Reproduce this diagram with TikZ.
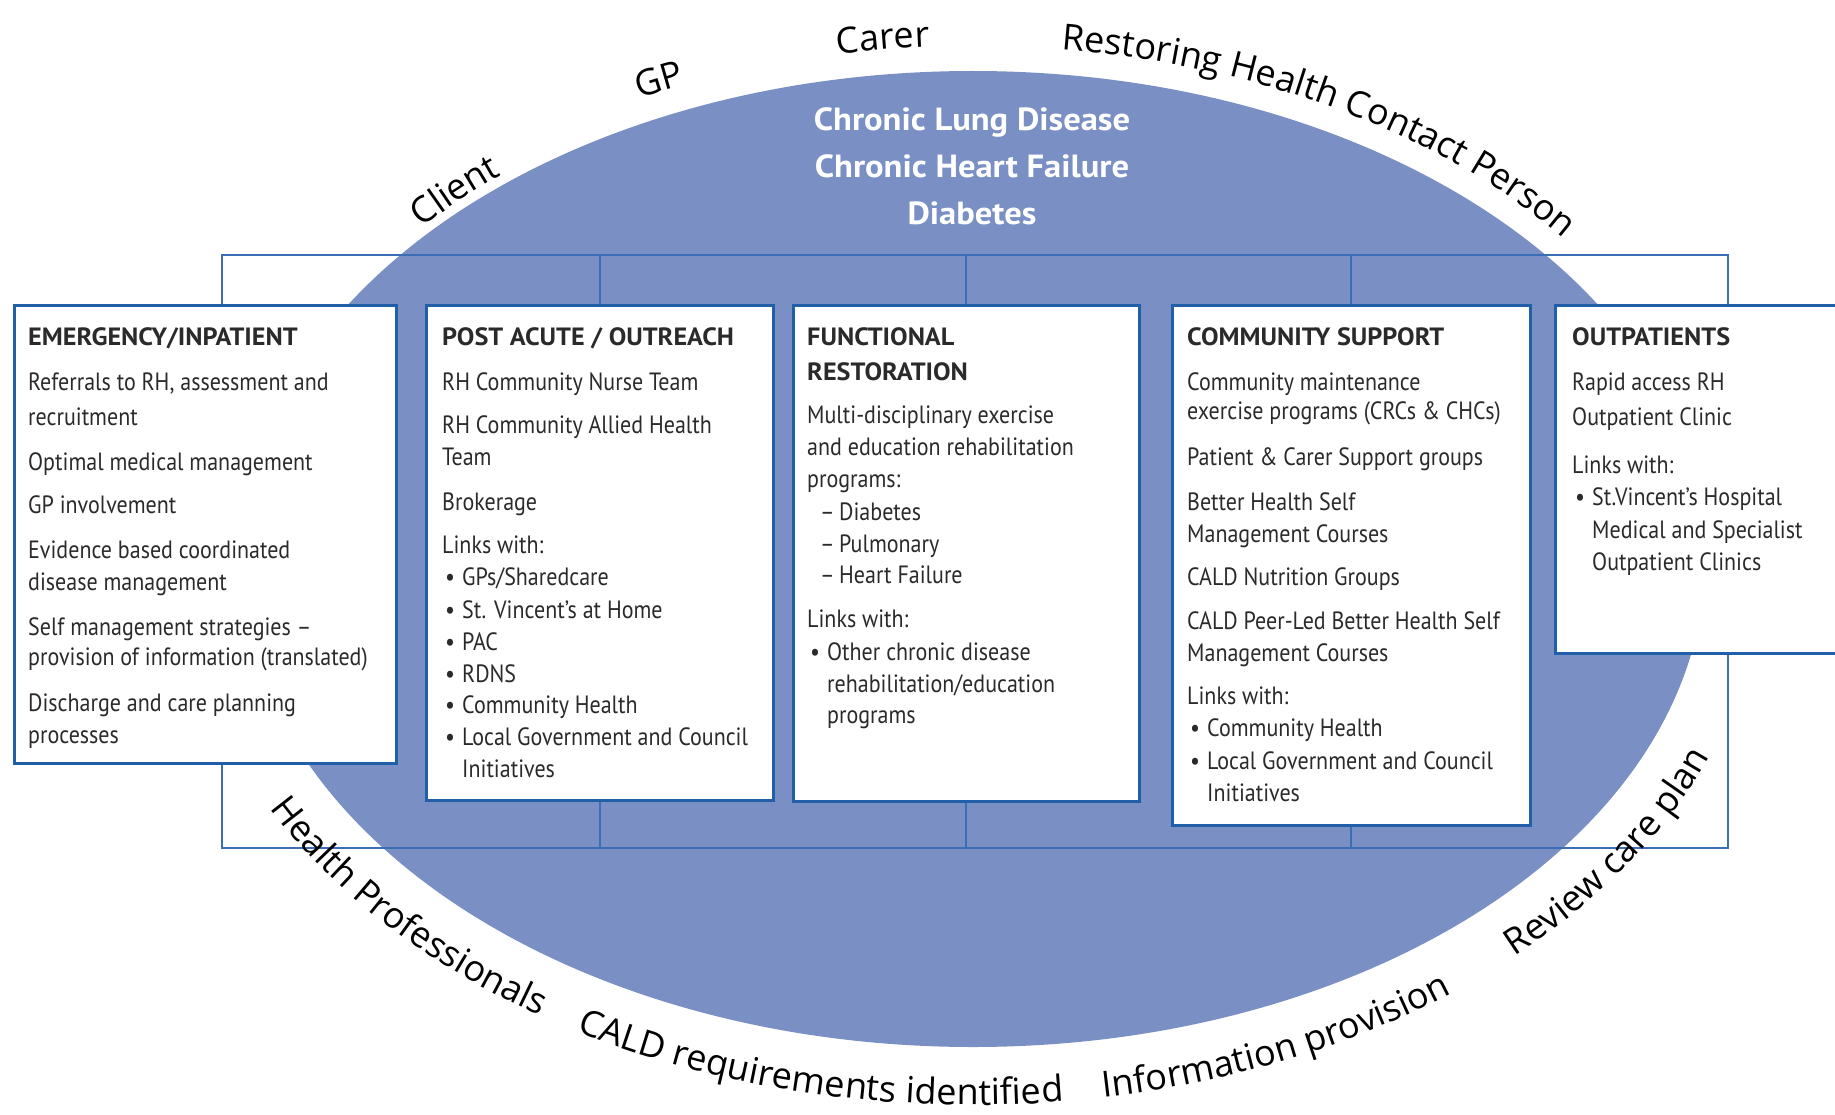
\documentclass[tikz,border=0pt]{standalone}
\usepackage{fontspec}
\setmainfont{PT Sans}
\newfontfamily\boxfont[FakeStretch=0.88]{PT Sans}
\newfontfamily\headfont[FakeStretch=1.05]{PT Sans}
\newfontfamily\titlefont[FakeStretch=1.08]{PT Sans}
\newfontfamily\labelfont{Open Sans}
\usetikzlibrary{decorations.text,shapes.geometric}
\definecolor{ellblue}{HTML}{7A90C4}
\definecolor{boxblue}{HTML}{2160A8}
\definecolor{frameblue}{HTML}{3B6EB5}
\definecolor{textgray}{HTML}{2A2A2A}
\newcommand\bul{\makebox[20pt][l]{\hspace{3pt}•}}
\newcommand\indt{\hspace*{20pt}}
\newcommand\dsh{\hspace*{13pt}\makebox[19pt][l]{–}}
\newcommand\labelfmt{\labelfont\fontsize{36}{42}\selectfont}
\newcommand\boxtext[3]{\foreach \yy/\lntext [count=\lnum] in {#3} {\node[ln] (#1-\lnum) at (#2,\yy) {\lntext};}}
\tikzset{
  boxrect/.style={draw=boxblue, line width=2.5pt, fill=white, rectangle, inner sep=0pt, anchor=north west},
  ln/.style={anchor=base west, inner sep=0pt, text=textgray, font=\boxfont\fontsize{25}{30}\selectfont},
  hd/.style={anchor=base west, inner sep=0pt, text=textgray, font=\headfont\bfseries\fontsize{25}{30}\selectfont},
  frameline/.style={draw=frameblue, line width=1.6pt},
  lbl/.style={decorate, decoration={text along path, text align=center, text={|\labelfmt|#1}}}
}
\begin{document}
\begin{tikzpicture}[x=1pt,y=-1pt]
\useasboundingbox (0,0) rectangle (1835,1115);
\clip (0,0) rectangle (1835,1115);
\fill[white] (0,0) rectangle (1835,1115);

% central ellipse
\node[ellipse, fill=ellblue, minimum width=1464pt, minimum height=976pt, inner sep=0pt] (core) at (973,559) {};
\node[text=white, font=\titlefont\bfseries\fontsize{32}{47}\selectfont, align=center] (title) at (972,166)
  {Chronic Lung Disease\\Chronic Heart Failure\\Diabetes};

% frame
\node[frameline, rectangle, anchor=north west, minimum width=1506pt, minimum height=593pt, inner sep=0pt] (frame) at (221,254) {};

% boxes
\node[boxrect, minimum width=382pt, minimum height=458pt] (emerg) at (13,304) {};
\node[boxrect, minimum width=347pt, minimum height=495pt] (post) at (425,304) {};
\node[boxrect, minimum width=346pt, minimum height=496pt] (func) at (792,304) {};
\node[boxrect, minimum width=358pt, minimum height=520pt] (comm) at (1171,304) {};
\node[boxrect, minimum width=320pt, minimum height=348pt] (outp) at (1554,304) {};

% connectors
\foreach \b in {post,func,comm}{
  \draw[frameline] (frame.north -| \b.north) -- (\b.north);
  \draw[frameline] (\b.south) -- (frame.south -| \b.south);
}

% box texts
\node[hd] (emerg-h) at (28,345) {EMERGENCY/INPATIENT};
\boxtext{emerg}{28}{390/{Referrals to RH, assessment and}, 425/{recruitment}, 470/{Optimal medical management},
  513/{GP involvement}, 558/{Evidence based coordinated}, 590/{disease management},
  635/{Self management strategies –}, 665/{provision of information (translated)},
  711/{Discharge and care planning}, 743/{processes}}

\node[hd] (post-h) at (442,345) {POST ACUTE / OUTREACH};
\boxtext{post}{442}{390/{RH Community Nurse Team}, 433/{RH Community Allied Health}, 465/{Team},
  510/{Brokerage}, 553/{Links with:}, 585/{\bul GPs/Sharedcare}, 618/{\bul St. Vincent’s at Home},
  650/{\bul PAC}, 682/{\bul RDNS}, 713/{\bul Community Health}, 745/{\bul Local Government and Council},
  777/{\indt Initiatives}}

\node[hd] (func-h1) at (807,345) {FUNCTIONAL};
\node[hd] (func-h2) at (807,380) {RESTORATION};
\boxtext{func}{807}{423/{Multi-disciplinary exercise}, 455/{and education rehabilitation}, 487/{programs:},
  520/{\dsh Diabetes}, 552/{\dsh Pulmonary}, 583/{\dsh Heart Failure}, 627/{Links with:},
  660/{\bul Other chronic disease}, 692/{\indt rehabilitation/education}, 723/{\indt programs}}

\node[hd] (comm-h) at (1187,345) {COMMUNITY SUPPORT};
\boxtext{comm}{1187}{390/{Community maintenance}, 419/{exercise programs (CRCs \& CHCs)},
  465/{Patient \& Carer Support groups}, 510/{Better Health Self}, 542/{Management Courses},
  585/{CALD Nutrition Groups}, 629/{CALD Peer-Led Better Health Self}, 661/{Management Courses},
  704/{Links with:}, 736/{\bul Community Health}, 769/{\bul Local Government and Council},
  801/{\indt Initiatives}}

\node[hd] (outp-h) at (1572,345) {OUTPATIENTS};
\boxtext{outp}{1572}{390/{Rapid access RH}, 425/{Outpatient Clinic}, 473/{Links with:},
  505/{\bul St.Vincent’s Hospital}, 538/{\indt Medical and Specialist}, 570/{\indt Outpatient Clinics}}

% curved labels (top)
\path[lbl=Client] (973,559) ++(199:736 and 500) arc[start angle=199, end angle=249, x radius=736, y radius=500];
\path[lbl=GP] (973,559) ++(225:757 and 513) arc[start angle=225, end angle=265, x radius=757, y radius=513];
\path[lbl=Carer] (973,559) ++(243:757 and 513) arc[start angle=243, end angle=283, x radius=757, y radius=513];
\path[lbl=Restoring Health Contact Person] (973,559) ++(269:757 and 513) arc[start angle=269, end angle=331, x radius=757, y radius=513];
% curved labels (bottom)
\path[lbl=Health Professionals] (973,559) ++(170:790 and 546) arc[start angle=170, end angle=110, x radius=790, y radius=546];
\path[lbl=CALD requirements identified] (973,559) ++(136:790 and 546) arc[start angle=136, end angle=69, x radius=790, y radius=546];
\path[lbl=Information provision] (973,559) ++(94:790 and 546) arc[start angle=94, end angle=37, x radius=790, y radius=546];
\path[lbl=Review care plan] (973,559) ++(58:790 and 546) arc[start angle=58, end angle=7, x radius=790, y radius=546];
\end{tikzpicture}
\end{document}
